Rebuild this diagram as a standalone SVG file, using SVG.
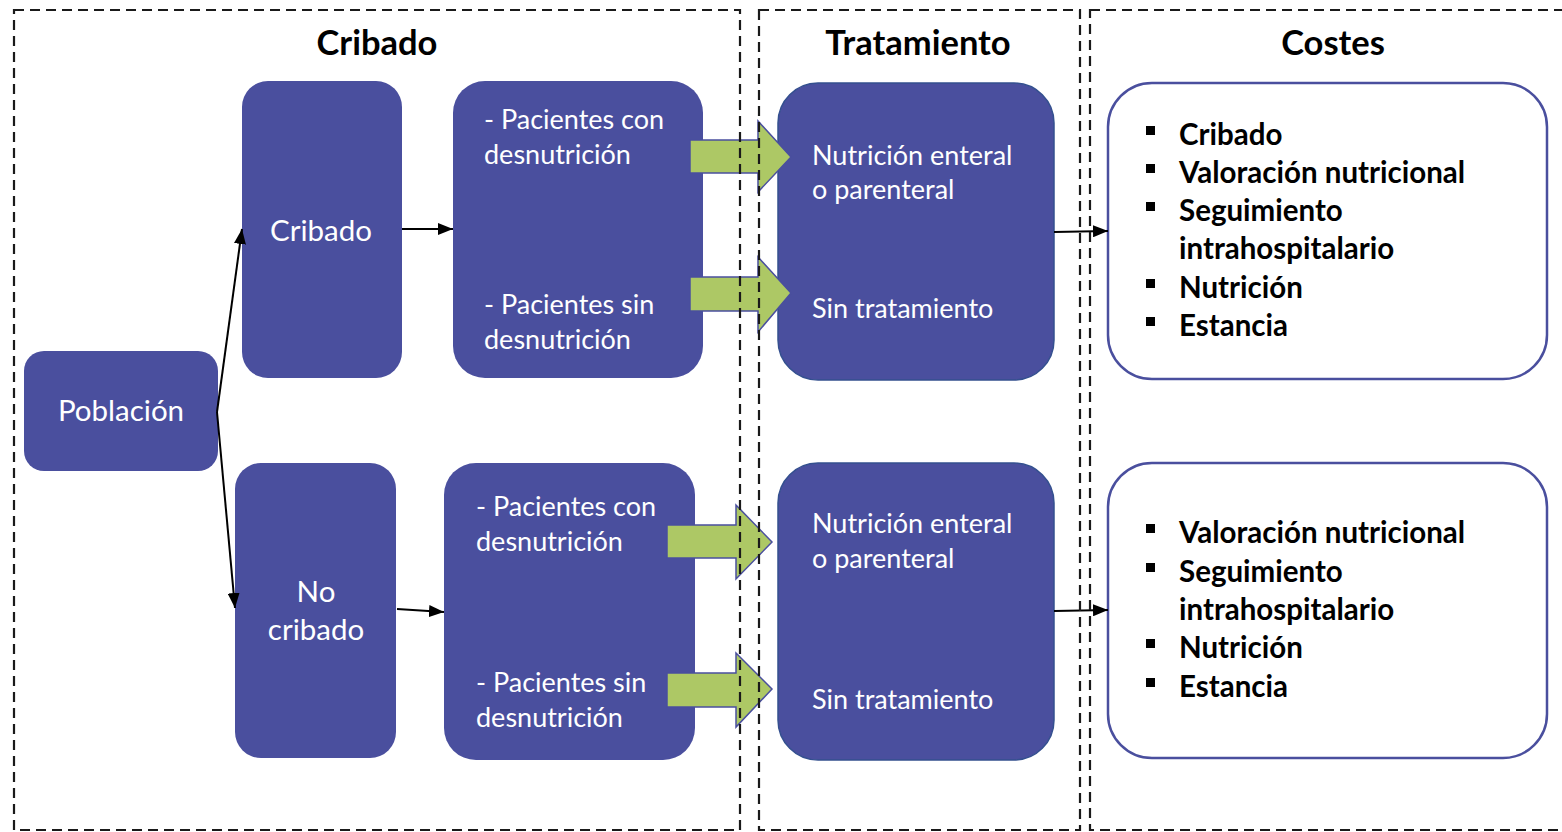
<svg xmlns="http://www.w3.org/2000/svg" width="1562" height="832" viewBox="0 0 1562 832">
<style>
.node{fill:#4A4F9E}
.trat{fill:#4A4F9E;stroke:#34508F;stroke-width:1.5}
.cost{fill:#fff;stroke:#4A4F9E;stroke-width:2.5}
.frame{fill:none;stroke:#1a1a1a;stroke-width:2.2;stroke-dasharray:10 6}
.t{font-family:Lato,"Liberation Sans",sans-serif;font-size:27px;fill:#fff}
.tl{font-size:29.5px}
.h{font-family:Lato,"Liberation Sans",sans-serif;font-size:34.5px;font-weight:bold;fill:#000;text-anchor:middle}
.b{font-family:Lato,"Liberation Sans",sans-serif;font-size:29.5px;font-weight:bold;fill:#000}
.c{text-anchor:middle}
.conn{fill:none;stroke:#000;stroke-width:2}
.green{fill:#ADC865;stroke:#4A4F9E;stroke-width:1.5}
.sq{fill:#000}
</style>
<defs>
<marker id="ah" viewBox="0 0 10 10" refX="10" refY="5" markerWidth="15" markerHeight="12" markerUnits="userSpaceOnUse" orient="auto" preserveAspectRatio="none">
<path d="M0,0 L10,5 L0,10 z" fill="#000"/>
</marker>
</defs>
<rect width="1562" height="832" fill="#fff"/>

<g id="headers">
<text class="h" x="377" y="55">Cribado</text>
<text class="h" x="918" y="55">Tratamiento</text>
<text class="h" x="1333" y="55">Costes</text>
</g>

<g id="poblacion">
<rect class="node" x="24" y="351" width="194" height="120" rx="20"/>
<text class="t tl c" x="121" y="421">Población</text>
</g>
<g id="cribado">
<rect class="node" x="242" y="81" width="160" height="297" rx="26"/>
<text class="t tl c" x="321" y="241">Cribado</text>
</g>
<g id="no-cribado">
<rect class="node" x="235" y="463" width="161" height="295" rx="26"/>
<text class="t tl c" x="316" y="602">No</text>
<text class="t tl c" x="316" y="640">cribado</text>
</g>
<g id="pacientes-cribado">
<rect class="node" x="453" y="81" width="250" height="297" rx="32"/>
<text class="t" x="484" y="129">- Pacientes con</text>
<text class="t" x="484" y="164">desnutrición</text>
<text class="t" x="484" y="314">- Pacientes sin</text>
<text class="t" x="484" y="349">desnutrición</text>
</g>
<g id="pacientes-no-cribado">
<rect class="node" x="444" y="463" width="251" height="297" rx="32"/>
<text class="t" x="476" y="516">- Pacientes con</text>
<text class="t" x="476" y="551">desnutrición</text>
<text class="t" x="476" y="692">- Pacientes sin</text>
<text class="t" x="476" y="727">desnutrición</text>
</g>
<g id="tratamiento-cribado">
<rect class="trat" x="778" y="83" width="276" height="297" rx="40"/>
<text class="t" x="812" y="165">Nutrición enteral</text>
<text class="t" x="812" y="199">o parenteral</text>
<text class="t" x="812" y="318">Sin tratamiento</text>
</g>
<g id="tratamiento-no-cribado">
<rect class="trat" x="778" y="463" width="276" height="297" rx="40"/>
<text class="t" x="812" y="533">Nutrición enteral</text>
<text class="t" x="812" y="568">o parenteral</text>
<text class="t" x="812" y="709">Sin tratamiento</text>
</g>
<g id="costes-cribado">
<rect class="cost" x="1108" y="83" width="439" height="296" rx="44"/>
<rect class="sq" x="1146" y="126" width="9" height="9"/>
<rect class="sq" x="1146" y="164" width="9" height="9"/>
<rect class="sq" x="1146" y="202" width="9" height="9"/>
<rect class="sq" x="1146" y="279" width="9" height="9"/>
<rect class="sq" x="1146" y="317" width="9" height="9"/>
<text class="b" x="1179" y="145">Cribado</text>
<text class="b" x="1179" y="183">Valoración nutricional</text>
<text class="b" x="1179" y="221">Seguimiento</text>
<text class="b" x="1179" y="259">intrahospitalario</text>
<text class="b" x="1179" y="298">Nutrición</text>
<text class="b" x="1179" y="336">Estancia</text>
</g>
<g id="costes-no-cribado">
<rect class="cost" x="1108" y="463" width="439" height="295" rx="44"/>
<rect class="sq" x="1146" y="524" width="9" height="9"/>
<rect class="sq" x="1146" y="563" width="9" height="9"/>
<rect class="sq" x="1146" y="639" width="9" height="9"/>
<rect class="sq" x="1146" y="678" width="9" height="9"/>
<text class="b" x="1179" y="543">Valoración nutricional</text>
<text class="b" x="1179" y="582">Seguimiento</text>
<text class="b" x="1179" y="620">intrahospitalario</text>
<text class="b" x="1179" y="658">Nutrición</text>
<text class="b" x="1179" y="697">Estancia</text>
</g>

<g id="connectors">
<path class="conn" d="M217,412 L242,229" marker-end="url(#ah)"/>
<path class="conn" d="M217,412 L235,608" marker-end="url(#ah)"/>
<path class="conn" d="M402,229 L453,229" marker-end="url(#ah)"/>
<path class="conn" d="M397,609 L444,612" marker-end="url(#ah)"/>
<path class="conn" d="M1054,232 L1108,231" marker-end="url(#ah)"/>
<path class="conn" d="M1054,611 L1108,610" marker-end="url(#ah)"/>
<path class="green" d="M690,140 L758,140 L758,121 L791,157 L758,192 L758,173 L690,173 z"/>
<path class="green" d="M690,277 L758,277 L758,257 L791,293 L758,332 L758,311 L690,311 z"/>
<path class="green" d="M667,525 L736,525 L736,505 L772,542 L736,579 L736,558 L667,558 z"/>
<path class="green" d="M667,673 L736,673 L736,653 L772,689 L736,727 L736,707 L667,707 z"/>
</g>

<g id="frames">
<rect class="frame" x="14" y="10" width="726" height="820"/>
<rect class="frame" x="759" y="10" width="321" height="820"/>
<rect class="frame" x="1090" y="10" width="480" height="820"/>
</g>
</svg>
